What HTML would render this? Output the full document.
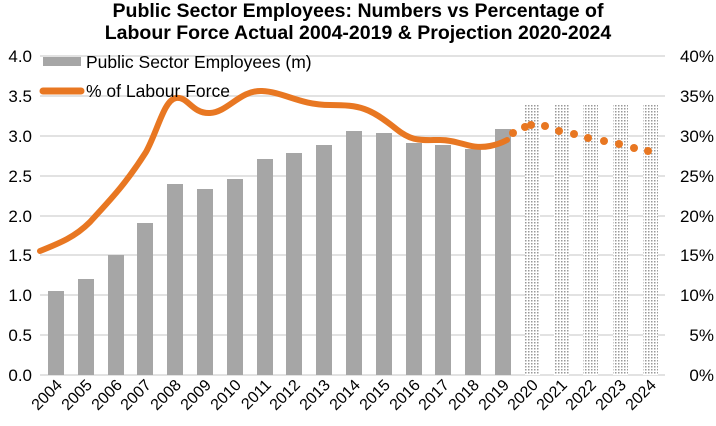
<!DOCTYPE html>
<html><head><meta charset="utf-8"><style>body{margin:0;background:#fff}svg{display:block;font-family:"Liberation Sans",Arial,sans-serif}</style></head><body>
<svg width="716" height="426" viewBox="0 0 716 426">
<defs><pattern id="dots" width="3" height="3" patternUnits="userSpaceOnUse"><rect width="3" height="3" fill="#fff"/><rect width="1.5" height="1.5" fill="#999"/></pattern></defs>
<text x="358" y="17" text-anchor="middle" font-size="19.5" font-weight="bold">Public Sector Employees: Numbers vs Percentage of</text>
<text x="358" y="39" text-anchor="middle" font-size="19.5" font-weight="bold">Labour Force Actual 2004-2019 &amp; Projection 2020-2024</text>
<g stroke="#d9d9d9" stroke-width="1.5">
<line x1="40" x2="665" y1="56" y2="56"/><line x1="40" x2="665" y1="96" y2="96"/><line x1="40" x2="665" y1="136" y2="136"/><line x1="40" x2="665" y1="176" y2="176"/><line x1="40" x2="665" y1="216" y2="216"/><line x1="40" x2="665" y1="255" y2="255"/><line x1="40" x2="665" y1="295" y2="295"/><line x1="40" x2="665" y1="335" y2="335"/><line x1="40" x2="665" y1="375" y2="375"/>
</g>
<g font-size="17" text-anchor="end"><text x="32" y="62">4.0</text><text x="32" y="102">3.5</text><text x="32" y="142">3.0</text><text x="32" y="182">2.5</text><text x="32" y="222">2.0</text><text x="32" y="261">1.5</text><text x="32" y="301">1.0</text><text x="32" y="341">0.5</text><text x="32" y="381">0.0</text></g>
<g font-size="17" text-anchor="end"><text x="714" y="62">40%</text><text x="714" y="102">35%</text><text x="714" y="142">30%</text><text x="714" y="182">25%</text><text x="714" y="222">20%</text><text x="714" y="261">15%</text><text x="714" y="301">10%</text><text x="714" y="341">5%</text><text x="714" y="381">0%</text></g>
<g fill="#a6a6a6">
<rect x="48" y="291" width="16" height="84"/><rect x="78" y="279" width="16" height="96"/><rect x="108" y="255" width="16" height="120"/><rect x="137" y="223" width="16" height="152"/><rect x="167" y="184" width="16" height="191"/><rect x="197" y="189" width="16" height="186"/><rect x="227" y="179" width="16" height="196"/><rect x="257" y="159" width="16" height="216"/><rect x="286" y="153" width="16" height="222"/><rect x="316" y="145" width="16" height="230"/><rect x="346" y="131" width="16" height="244"/><rect x="376" y="133" width="16" height="242"/><rect x="406" y="143" width="16" height="232"/><rect x="435" y="145" width="16" height="230"/><rect x="465" y="149" width="16" height="226"/><rect x="495" y="129" width="16" height="246"/>
</g>
<g fill="url(#dots)"><rect x="525" y="105" width="15" height="270"/><rect x="554" y="105" width="15" height="270"/><rect x="583" y="105" width="15" height="270"/><rect x="613" y="105" width="15" height="270"/><rect x="643" y="105" width="15" height="270"/></g>
<path fill="none" stroke="#e87722" stroke-width="6" stroke-linejoin="round" stroke-linecap="round" d="M40,251 C60,243 75,237 90,222 C110,200 125,185 146,152 C158,130 164,100 176,98 C188,96 192,114 210,113 C228,112 240,90 262,91 C284,92 300,105 330,105 C360,105 370,108 395,128 C412,142 420,140 440,140 C460,140 470,150 490,146 C500,144 503,142 507,140"/>
<g fill="#e87722"><circle cx="513" cy="133" r="4"/><circle cx="525" cy="127" r="4"/><circle cx="531" cy="125" r="4"/><circle cx="545" cy="126" r="4"/><circle cx="559" cy="131" r="4"/><circle cx="574" cy="134" r="4"/><circle cx="588" cy="138" r="4"/><circle cx="604" cy="141" r="4"/><circle cx="619" cy="144" r="4"/><circle cx="634" cy="148" r="4"/><circle cx="648" cy="151" r="4"/></g>
<rect x="43" y="57" width="38" height="9" fill="#a6a6a6"/>
<text x="86" y="68" font-size="17.5">Public Sector Employees (m)</text>
<line x1="43" y1="91" x2="81" y2="91" stroke="#e87722" stroke-width="7" stroke-linecap="round"/>
<text x="86" y="97" font-size="17.5">% of Labour Force</text>
<g font-size="16" text-anchor="end">
<text transform="translate(63,386) rotate(-45)">2004</text><text transform="translate(93,386) rotate(-45)">2005</text><text transform="translate(123,386) rotate(-45)">2006</text><text transform="translate(152,386) rotate(-45)">2007</text><text transform="translate(182,386) rotate(-45)">2008</text><text transform="translate(212,386) rotate(-45)">2009</text><text transform="translate(242,386) rotate(-45)">2010</text><text transform="translate(272,386) rotate(-45)">2011</text><text transform="translate(301,386) rotate(-45)">2012</text><text transform="translate(331,386) rotate(-45)">2013</text><text transform="translate(361,386) rotate(-45)">2014</text><text transform="translate(391,386) rotate(-45)">2015</text><text transform="translate(421,386) rotate(-45)">2016</text><text transform="translate(450,386) rotate(-45)">2017</text><text transform="translate(480,386) rotate(-45)">2018</text><text transform="translate(510,386) rotate(-45)">2019</text><text transform="translate(539,386) rotate(-45)">2020</text><text transform="translate(568,386) rotate(-45)">2021</text><text transform="translate(597,386) rotate(-45)">2022</text><text transform="translate(627,386) rotate(-45)">2023</text><text transform="translate(657,386) rotate(-45)">2024</text>
</g>
</svg>
</body></html>
